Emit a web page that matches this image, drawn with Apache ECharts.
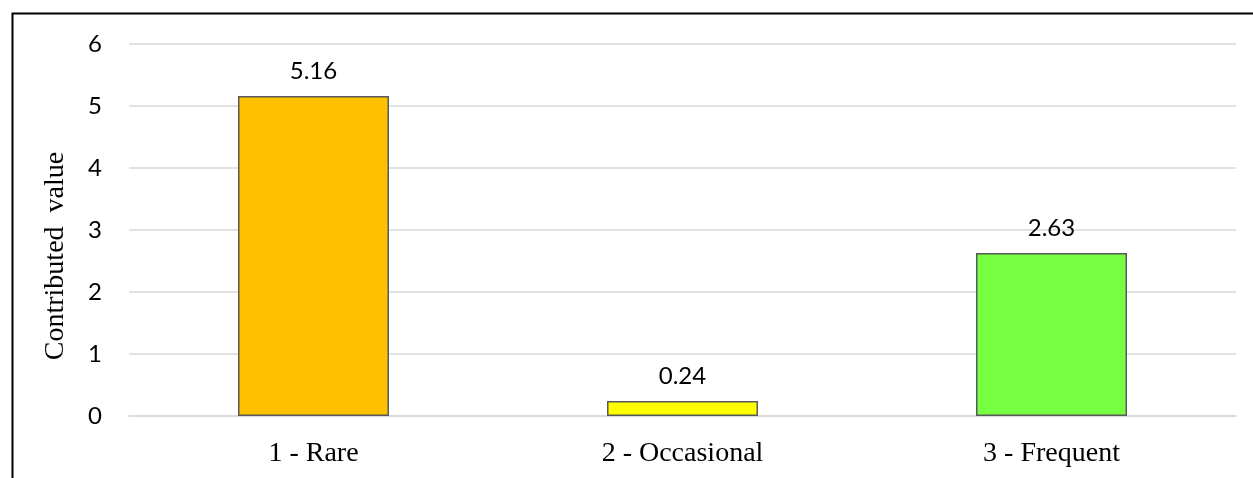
<!DOCTYPE html>
<html>
<head>
<meta charset="utf-8">
<script src="https://cdn.jsdelivr.net/npm/echarts@6/dist/echarts.min.js"></script>
<style>
  html, body { margin: 0; padding: 0; background: #fff; }
  #chart { width: 1253px; height: 478px; }
</style>
</head>
<body>
<div id="chart"></div>
<script>
// Frequency classes and their contributed values
const categories = ['1 - Rare', '2 - Occasional', '3 - Frequent'];
const values = [5.16, 0.24, 2.63];
const barColors = ['#FFC000', '#FFFF00', '#76FF41'];
const yTicks = { min: 0, max: 6, interval: 1 };

const chart = echarts.init(document.getElementById('chart'));

chart.setOption({
  animation: false,
  backgroundColor: '#fff',
  graphic: [
    // frame along the top and left edges
    { type: 'polyline', shape: { points: [[12.5, 478], [12.5, 13.5], [1253, 13.5]] },
      style: { stroke: '#000', lineWidth: 2, fill: null } }
  ],
  grid: { left: 129, right: 17, top: 44, bottom: 62 },
  xAxis: {
    type: 'category',
    data: categories,
    axisTick: { show: false },
    axisLine: { show: true, lineStyle: { color: '#D9D9D9', width: 1.5 } },
    axisLabel: {
      margin: 24,
      color: '#000',
      fontFamily: 'Liberation Serif',
      fontSize: 28
    }
  },
  yAxis: {
    type: 'value',
    min: yTicks.min,
    max: yTicks.max,
    interval: yTicks.interval,
    name: 'Contributed  value',
    nameLocation: 'middle',
    nameGap: 59,
    nameTextStyle: {
      color: '#000', fontFamily: 'Liberation Serif', fontSize: 28,
      padding: [0, 52, 0, 0]
    },
    axisLine: { show: false },
    axisTick: { show: false },
    splitLine: { lineStyle: { color: '#D9D9D9', width: 1.5 } },
    axisLabel: { margin: 27, color: '#000', fontFamily: 'Lato', fontSize: 24 }
  },
  series: [{
    type: 'bar',
    barWidth: 151,
    data: values.map((v, i) => ({
      value: v,
      itemStyle: { color: barColors[i], borderColor: '#595959', borderWidth: 1.5 }
    })),
    label: {
      show: true,
      position: 'top',
      distance: 13,
      color: '#000',
      fontFamily: 'Lato',
      fontSize: 24,
      formatter: p => p.value.toFixed(2)
    }
  }]
});
</script>
</body>
</html>
